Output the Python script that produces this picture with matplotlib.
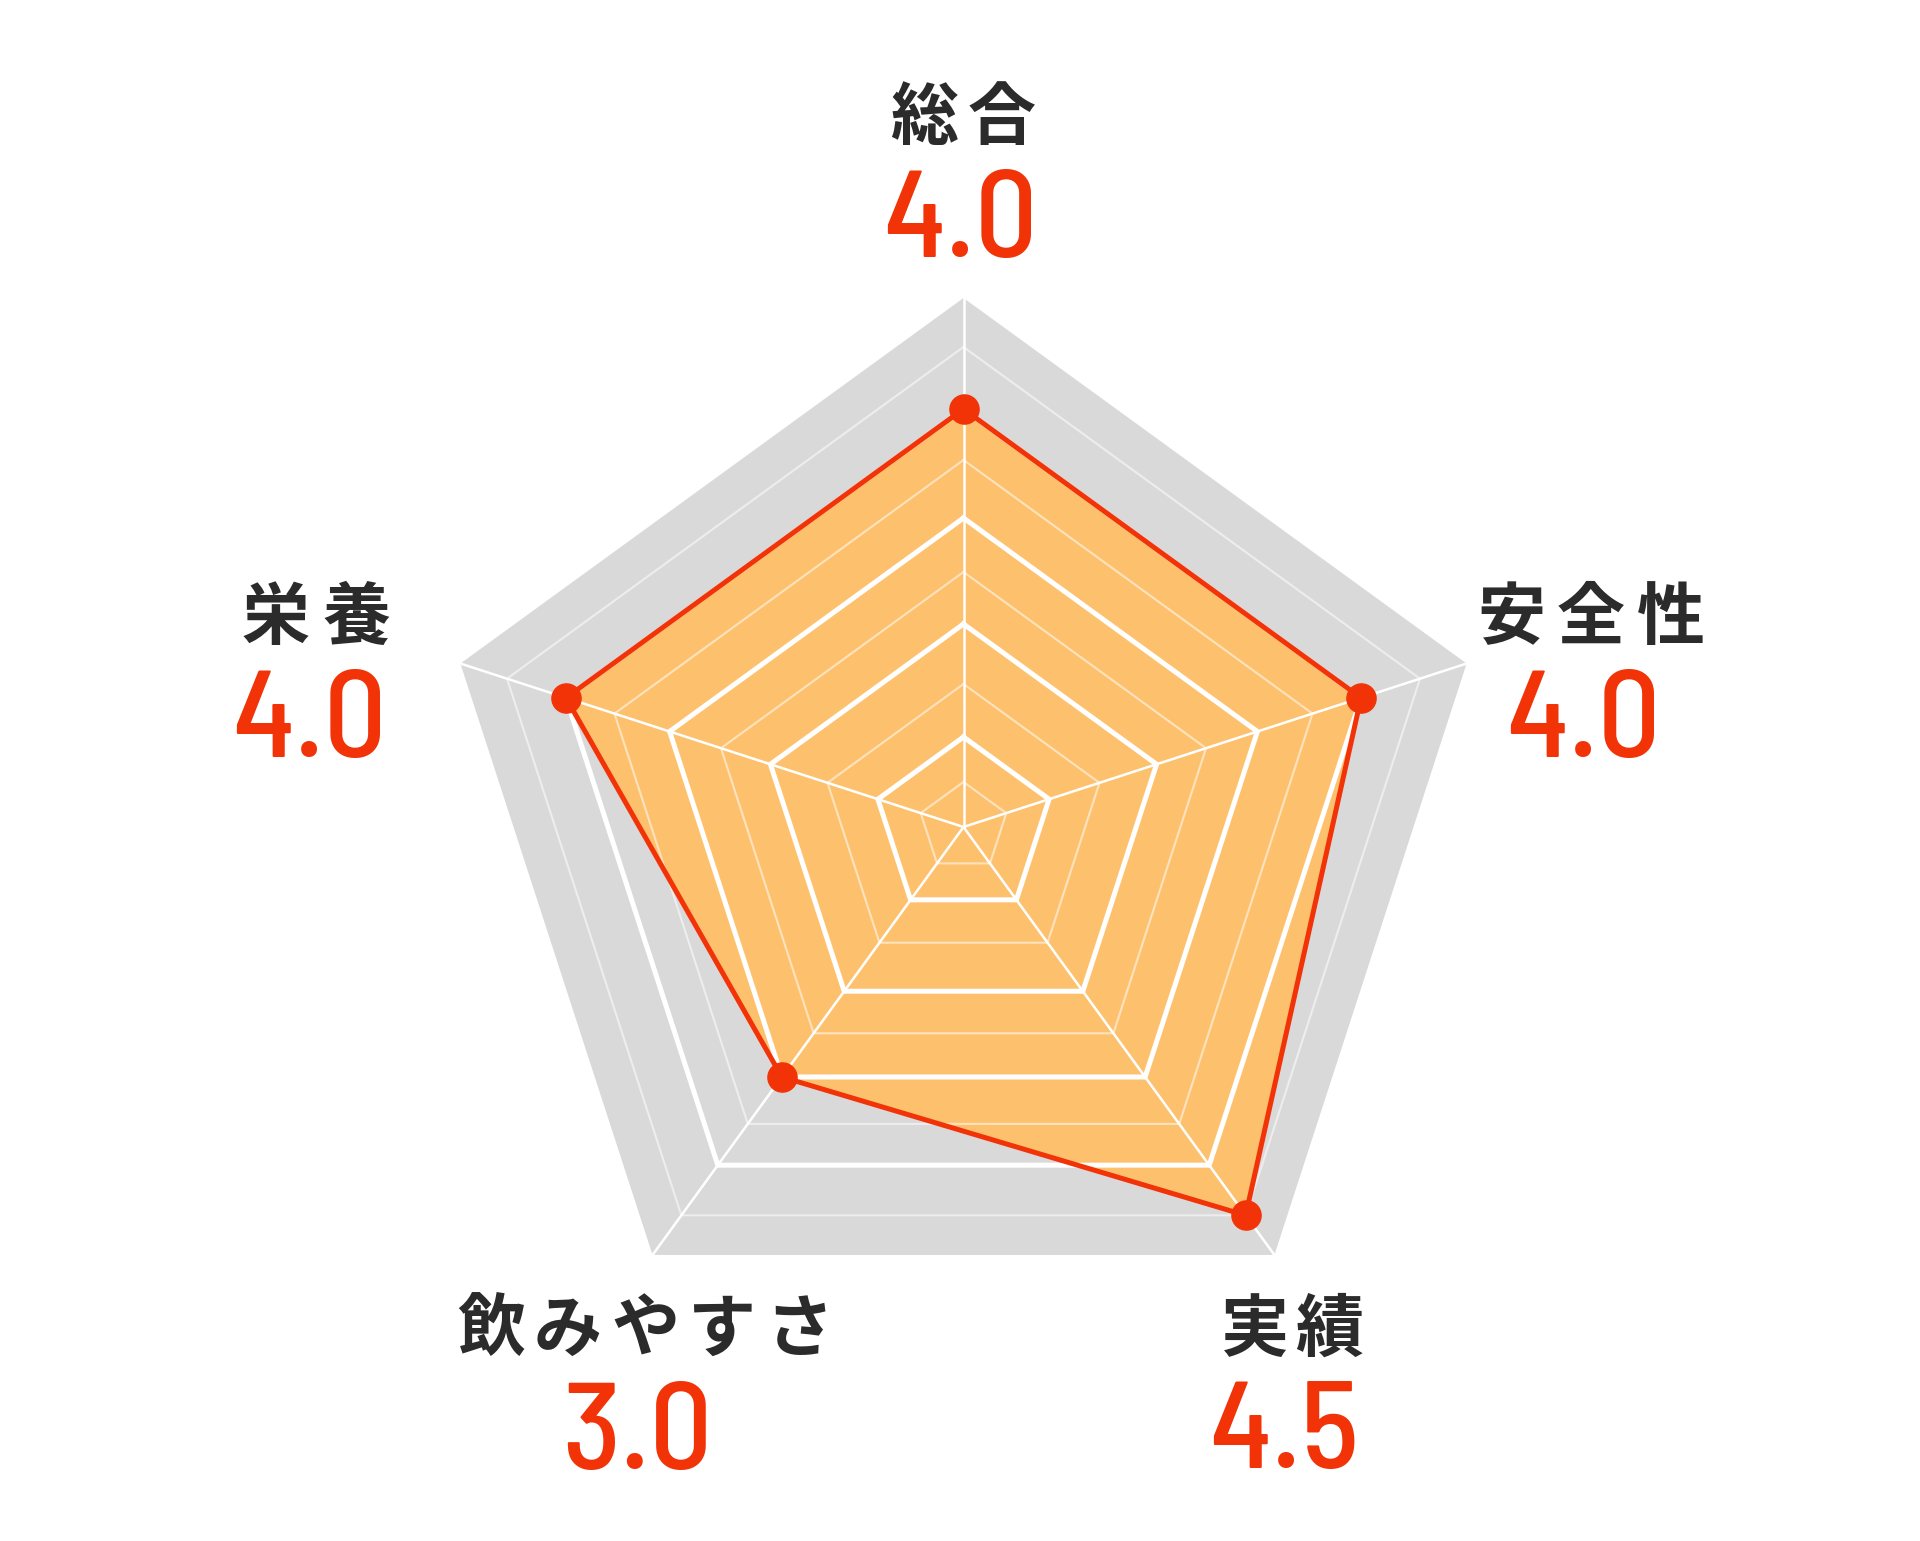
import numpy as np
import matplotlib
matplotlib.use('Agg')
import matplotlib.pyplot as plt

# データ
categories = ['総合', '安全性', '実績', '飲みやすさ', '栄養']
values = [4.0, 4.0, 4.5, 3.0, 4.0]
max_value = 5.0
major_levels = [1, 2, 3, 4]
minor_levels = [0.5, 1.5, 2.5, 3.5, 4.5]

# 色
GRAY_BG = '#d9d9d9'
ORANGE = '#fdc16e'
RED = '#f23308'
TEXT = '#2b2b2b'

W, H = 1920, 1541
CX, CY = 963.5, 827.0   # レーダーの中心 (px)

# 元画像の目盛り間隔は均等ではないので、各目盛りの半径(px)に合わせた軸スケールにする
ring_levels = [0, 0.5, 1, 1.5, 2, 2.5, 3, 3.5, 4, 4.5, 5]
ring_px = [0, 45, 90, 143, 203, 255, 309, 367, 418, 480, 529]
RAD = ring_px[-1]

# ラベル位置 (px): 項目名の中心x, ベースライン, 文字送り / 数値の中心x, ベースライン
label_pos = [(963, 139, 77), (1591, 639, 80), (1292, 1351, 74), (645, 1351, 77), (316, 639, 80)]
value_pos = [(960, 257), (1583, 757), (1284, 1468), (637, 1469), (309, 757)]

fig = plt.figure(figsize=(W / 100, H / 100), dpi=100)
ax = fig.add_axes([(CX - RAD) / W, (H - CY - RAD) / H, 2 * RAD / W, 2 * RAD / H],
                  projection='polar')
ax.set_theta_offset(np.pi / 2)
ax.set_theta_direction(-1)
ax.set_rscale('function', functions=(lambda v: np.interp(v, ring_levels, ring_px),
                                     lambda r: np.interp(r, ring_px, ring_levels)))
ax.set_ylim(0, max_value)
ax.axis('off')

n = len(categories)
angles = np.linspace(0, 2 * np.pi, n, endpoint=False)
ang_c = np.append(angles, angles[0])
val_c = np.append(values, values[0])

# 背景のグレー五角形
ax.fill(ang_c, [max_value] * (n + 1), color=GRAY_BG, lw=0, zorder=1)
# データの塗り
ax.fill(ang_c, val_c, color=ORANGE, lw=0, zorder=2)

# グリッド
for lv in minor_levels:
    ax.plot(ang_c, [lv] * (n + 1), color='white', alpha=0.55, lw=1.5, zorder=3)
for lv in major_levels:
    ax.plot(ang_c, [lv] * (n + 1), color='white', lw=3.6, zorder=4,
            solid_joinstyle='miter')
for a in angles:
    ax.plot([a, a], [0, max_value], color='white', lw=1.8, zorder=4)

# データ線とマーカー
ax.plot(ang_c, val_c, color=RED, lw=3.6, zorder=5, solid_joinstyle='miter')
ax.plot(angles, values, 'o', color=RED, ms=21, zorder=6)

# 項目名(一文字ずつ間隔をあける)と数値
for cat, v, (lx, ly, pitch), (vx, vy) in zip(categories, values, label_pos, value_pos):
    for i, ch in enumerate(cat):
        x = lx + (i - (len(cat) - 1) / 2) * pitch
        fig.text(x / W, 1 - ly / H, ch, ha='center', va='baseline',
                 fontsize=49, fontweight='bold', color=TEXT,
                 family=['Noto Sans CJK JP', 'DejaVu Sans'])
    fig.text(vx / W, 1 - vy / H, f'{v:.1f}', ha='center', va='baseline',
             fontsize=89, fontweight=500, color=RED,
             family=['Barlow Semi Condensed', 'DejaVu Sans'])

fig.savefig('out.png', dpi=100, facecolor='white')
